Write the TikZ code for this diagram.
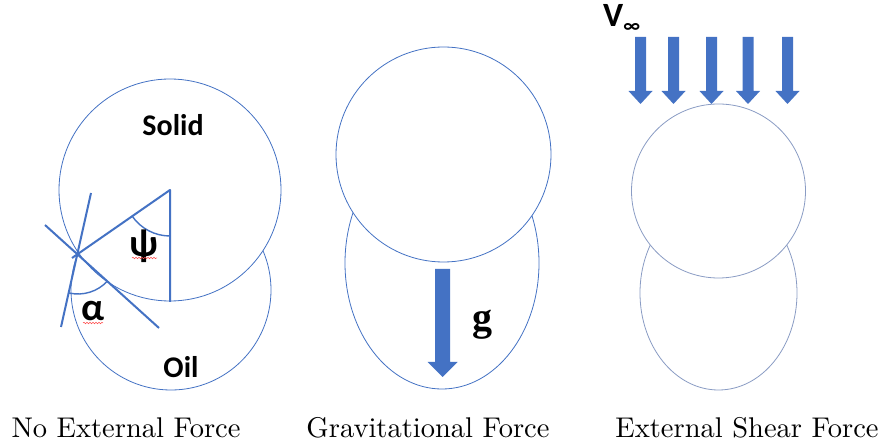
\documentclass[tikz,border=0pt]{standalone}
\usepackage{fontspec}
\newfontfamily\carl{Carlito}
\newfontfamily\serifb{Liberation Serif}
\newfontfamily\capfont{lmroman10-regular}[Extension=.otf]
\usetikzlibrary{decorations.pathmorphing}
\definecolor{ob}{HTML}{4472C4}
\definecolor{obl}{HTML}{8A9CC4}
\newcommand\fatdown[6]{%
  \fill[ob] (#1-#5,#2) -- (#1+#5,#2) -- (#1+#5,#3) -- (#1+#6,#3) -- (#1,#4) -- (#1-#6,#3) -- (#1-#5,#3) -- cycle;}
\tikzset{
  drop/.style={draw=ob, line width=0.8pt, fill=white},
  dropl/.style={draw=obl, line width=0.8pt, fill=white},
  angleline/.style={draw=ob, line width=2pt},
  lbl/.style={inner sep=0pt, font=\carl\bfseries\fontsize{30}{32}\selectfont},
  greek/.style={inner sep=0pt, font=\carl\bfseries\fontsize{39}{40}\selectfont},
  captext/.style={inner sep=0pt, font=\capfont\fontsize{28.5}{30}\selectfont},
  squiggle/.style={draw=red!70, line width=0.5pt, decorate, decoration={snake, amplitude=0.8pt, segment length=3pt}}
}
\begin{document}
\begin{tikzpicture}[x=1pt,y=-1pt,line join=round]
\useasboundingbox (0,0) rectangle (884,446);
% ---------- panel 1 ----------
\draw[drop] (171,290) circle (100);
\draw[drop] (170,190) circle (111);
\coordinate (V) at (170,190);
\coordinate (B) at (170,302);
\coordinate (C) at (78,254);
\coordinate (Ce) at (72,258);
\coordinate (T1a) at (91,193);
\coordinate (T1b) at (61,327);
\coordinate (T2a) at (45,225);
\coordinate (T2b) at (159,328);
\draw[angleline] (Ce) -- (V) -- (B);
\draw[angleline] (T1a) -- (T1b);
\draw[angleline] (T2a) -- (T2b);
\draw[angleline, line width=1.4pt] ([shift={(90:46)}]V) arc (90:145.2:46);
\draw[angleline, line width=1.4pt] ([shift={(42.4:40)}]C) arc (42.4:103.1:40);
\node[lbl] (solid) at (173,125) {Solid};
\node[lbl] (oil) at (181,367) {Oil};
\node[greek] (psi) at (144,246) {ψ};
\node[greek] (alpha) at (93,311) {α};
\draw[squiggle] (132,258) -- (157,258);
\draw[squiggle] (83,323) -- (103,323);
% ---------- panel 2 ----------
\draw[drop] (442,263) ellipse (97 and 126);
\draw[drop] (443.5,154.5) circle (107.5);
\fatdown{442.5}{269}{362}{377}{7.5}{15}
\node[inner sep=0pt, font=\serifb\bfseries\fontsize{40}{42}\selectfont] (g) at (482,325) {g};
% ---------- panel 3 ----------
\draw[dropl] (718.5,293) ellipse (78.5 and 97);
\draw[dropl] (718.5,191) circle (87);
\foreach \xx in {640.5,673.5,711.5,748,787.5}{\fatdown{\xx}{37}{91}{104}{5.5}{12}}
\node[inner sep=0pt, anchor=base west, font=\carl\bfseries\fontsize{34}{34}\selectfont] (vinf) at (603,27) {V\raisebox{-0.15em}{\fontsize{20}{20}\selectfont ∞}};
% ---------- captions ----------
\node[captext] (c1) at (126,428) {No External Force};
\node[captext] (c2) at (428,428) {Gravitational Force};
\node[captext] (c3) at (747,428) {External Shear Force};
\end{tikzpicture}
\end{document}
